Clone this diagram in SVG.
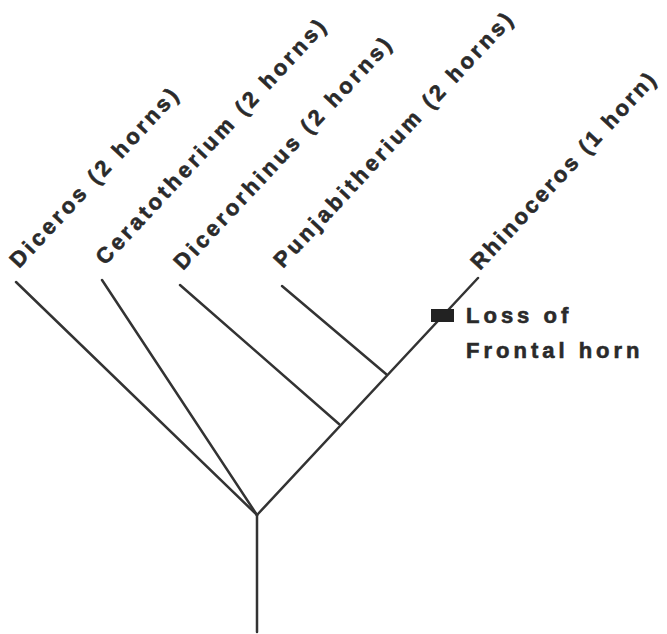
<svg xmlns="http://www.w3.org/2000/svg" width="667" height="634" viewBox="0 0 667 634">
<style>
.br{stroke:#333;stroke-width:2.5;fill:none;stroke-linecap:round}
.lbl{font-family:"Liberation Sans",Arial,sans-serif;font-weight:bold;font-size:22px;letter-spacing:3.4px;fill:#2a2a2a;stroke:#2a2a2a;stroke-width:0.6}
.note{letter-spacing:4px}
</style>
<rect width="667" height="634" fill="#fff"/>
<g id="connectors">
<line class="br" x1="257" y1="632" x2="257" y2="515"/>
<line class="br" x1="257" y1="515" x2="16" y2="282"/>
<line class="br" x1="257" y1="515" x2="102" y2="280"/>
<line class="br" x1="257" y1="515" x2="478" y2="278"/>
<line class="br" x1="339" y1="424" x2="180" y2="285"/>
<line class="br" x1="386" y1="374" x2="282" y2="286"/>
</g>
<g id="diceros"><text class="lbl" transform="translate(19,269) rotate(-47)">Diceros (2 horns)</text></g>
<g id="ceratotherium"><text class="lbl" transform="translate(105,266) rotate(-47)">Ceratotherium (2 horns)</text></g>
<g id="dicerorhinus"><text class="lbl" transform="translate(183,271) rotate(-47)">Dicerorhinus (2 horns)</text></g>
<g id="punjabitherium"><text class="lbl" transform="translate(283,269) rotate(-47)">Punjabitherium (2 horns)</text></g>
<g id="rhinoceros"><text class="lbl" style="letter-spacing:2.8px" transform="translate(480,271) rotate(-47)">Rhinoceros (1 horn)</text></g>
<g id="loss-frontal-horn">
<rect x="431" y="309" width="23" height="13" fill="#222"/>
<text class="lbl note" x="466" y="323">Loss of</text>
<text class="lbl note" x="466" y="358">Frontal horn</text>
</g>
</svg>
